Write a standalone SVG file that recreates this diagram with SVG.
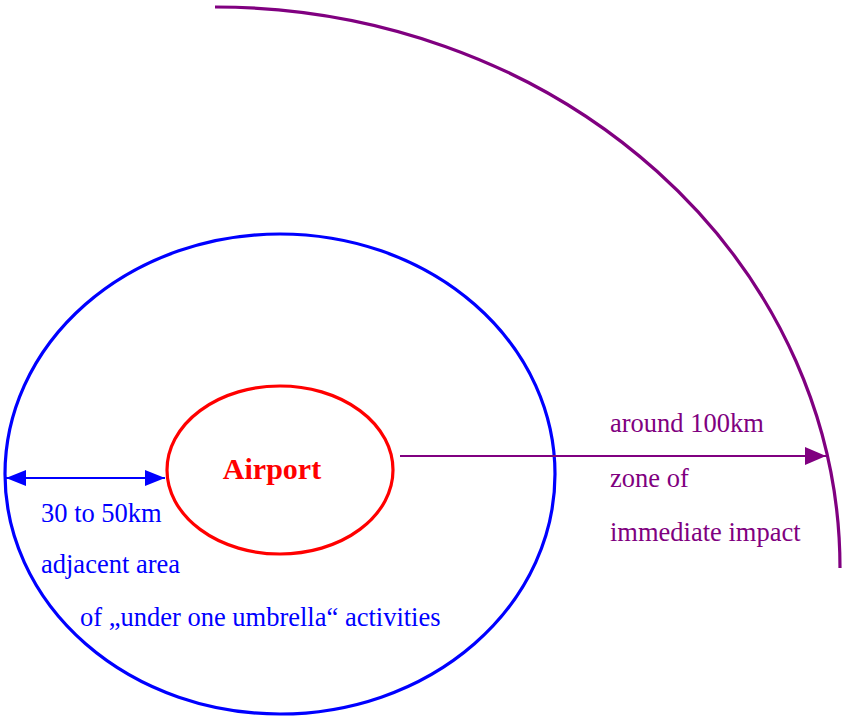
<svg xmlns="http://www.w3.org/2000/svg" width="842" height="717" viewBox="0 0 842 717">
<style>
.t{font-family:"Liberation Serif","Times New Roman",serif;font-size:26.5px}
.blue{fill:#0000FF}
.pur{fill:#800080}
</style>
<defs>
<marker id="ab" markerWidth="20" markerHeight="16" refX="20" refY="8" orient="auto-start-reverse" markerUnits="userSpaceOnUse"><path d="M0,0 L20,8 L0,16 Z" fill="#0000FF"/></marker>
<marker id="ap" markerWidth="21" markerHeight="18" refX="21" refY="9" orient="auto" markerUnits="userSpaceOnUse"><path d="M0,0 L21,9 L0,18 Z" fill="#800080"/></marker>
</defs>
<rect width="842" height="717" fill="#fff"/>
<g id="impact-zone">
<path d="M215,7 A625,561 0 0 1 840,568" fill="none" stroke="#800080" stroke-width="3.2"/>
</g>
<g id="adjacent-area">
<ellipse cx="280" cy="474" rx="275" ry="240" fill="none" stroke="#0000FF" stroke-width="3.2"/>
</g>
<g id="airport">
<ellipse cx="280" cy="470" rx="113" ry="84" fill="none" stroke="#FF0000" stroke-width="3.2"/>
<text x="272" y="479" text-anchor="middle" font-family="Liberation Serif,Times New Roman,serif" font-size="30" font-weight="bold" fill="#FF0000">Airport</text>
</g>
<g id="connectors">
<line x1="6" y1="478" x2="165" y2="478" stroke="#0000FF" stroke-width="2" marker-start="url(#ab)" marker-end="url(#ab)"/>
<line x1="400" y1="456" x2="826" y2="456" stroke="#800080" stroke-width="2" marker-end="url(#ap)"/>
</g>
<g id="labels">
<text class="t blue" x="41" y="522">30 to 50km</text>
<text class="t blue" x="41" y="573">adjacent area</text>
<text class="t blue" x="80" y="626">of „under one umbrella“ activities</text>
<text class="t pur" x="610" y="432">around 100km</text>
<text class="t pur" x="610" y="487">zone of</text>
<text class="t pur" x="610" y="541">immediate impact</text>
</g>
</svg>
